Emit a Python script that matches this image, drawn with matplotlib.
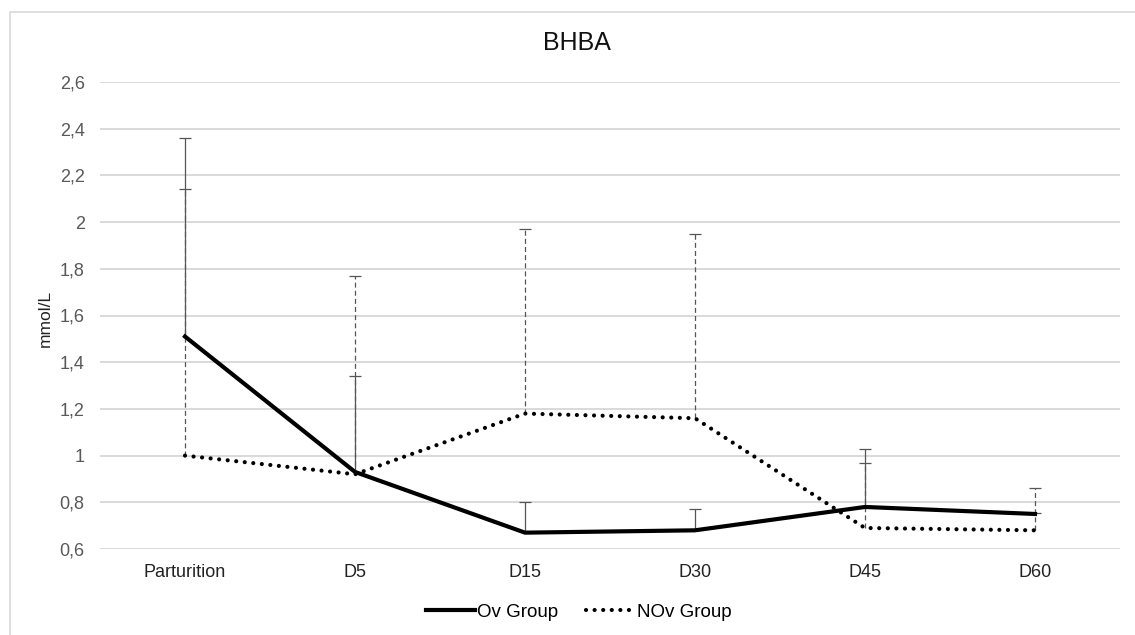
import numpy as np
import matplotlib
matplotlib.use('Agg')
import matplotlib.pyplot as plt
from matplotlib.patches import Rectangle

# --- datos ---
dias = ['Parturition', 'D5', 'D15', 'D30', 'D45', 'D60']
ov_media = [1.51, 0.93, 0.67, 0.68, 0.78, 0.75]
ov_sup = [2.36, 1.34, 0.80, 0.77, 1.03, 0.755]
nov_media = [1.00, 0.92, 1.18, 1.16, 0.69, 0.68]
nov_sup = [2.14, 1.77, 1.97, 1.95, 0.97, 0.86]
y_ticks = [0.6, 0.8, 1.0, 1.2, 1.4, 1.6, 1.8, 2.0, 2.2, 2.4, 2.6]
y_labels = ['0,6', '0,8', '1', '1,2', '1,4', '1,6', '1,8', '2', '2,2', '2,4', '2,6']

GRIS_GRID = '#d9d9d9'
GRIS_TXT = '#595959'
GRIS_ERR = '#555555'

plt.rcParams.update({
    'font.family': ['Liberation Sans', 'DejaVu Sans'],
})

fig = plt.figure(figsize=(11.35, 6.35), dpi=100)
fig.patches.append(Rectangle((10 / 1135, -0.1), 1.2, 1 - 12 / 635 + 0.1,
                             transform=fig.transFigure, fill=False,
                             edgecolor='#d9d9d9', linewidth=1.2))

ax = fig.add_axes([100 / 1135, 1 - 549 / 635, 1020 / 1135, 467 / 635])
x = np.arange(len(dias))

ov_err = np.array(ov_sup) - np.array(ov_media)
nov_err = np.array(nov_sup) - np.array(nov_media)

# barras de error (solo hacia arriba)
eb1 = ax.errorbar(x, ov_media, yerr=[np.zeros_like(ov_err), ov_err],
                  fmt='none', ecolor=GRIS_ERR, elinewidth=0.9,
                  capsize=4, capthick=0.9, zorder=2)
eb2 = ax.errorbar(x, nov_media, yerr=[np.zeros_like(nov_err), nov_err],
                  fmt='none', ecolor=GRIS_ERR, elinewidth=0.9,
                  capsize=4, capthick=0.9, zorder=2)
eb2[2][0].set_linestyle((0, (4, 2.5)))
# sin tapa inferior
eb1[1][0].set_visible(False)
eb2[1][0].set_visible(False)

ax.plot(x, ov_media, color='black', linewidth=3, solid_joinstyle='miter',
        label='Ov Group', zorder=4)
ax.plot(x, nov_media, color='black', linewidth=3,
        linestyle=(0, (0.01, 2.05)), dash_capstyle='round',
        label='NOv Group', zorder=3)

ax.set_xlim(-0.5, len(dias) - 0.5)
ax.set_ylim(0.6, 2.6)
ax.set_yticks(y_ticks)
ax.set_yticklabels(y_labels)
ax.set_xticks(x)
ax.set_xticklabels(dias)
ax.tick_params(axis='both', length=0, labelsize=13, colors=GRIS_TXT)
ax.tick_params(axis='x', pad=11, labelcolor='#222222')
ax.tick_params(axis='y', pad=11)
for s in ax.spines.values():
    s.set_visible(False)
ax.yaxis.grid(True, color=GRIS_GRID, linewidth=1.4)
ax.set_axisbelow(True)

fig.text(45 / 1135, 1 - 318 / 635, 'mmol/L', rotation=90, ha='center',
         va='center', fontsize=12.5, color='#222222')
fig.text(577 / 1135, 1 - 43 / 635, 'BHBA', ha='center', va='center',
         fontsize=18, color='#111111')

fig.legend(loc='center', bbox_to_anchor=(579 / 1135, 1 - 612 / 635),
           ncol=2, frameon=False, fontsize=13.5, handlelength=2.6,
           handletextpad=0.1, columnspacing=1.5)

fig.savefig('out.png', dpi=100)
